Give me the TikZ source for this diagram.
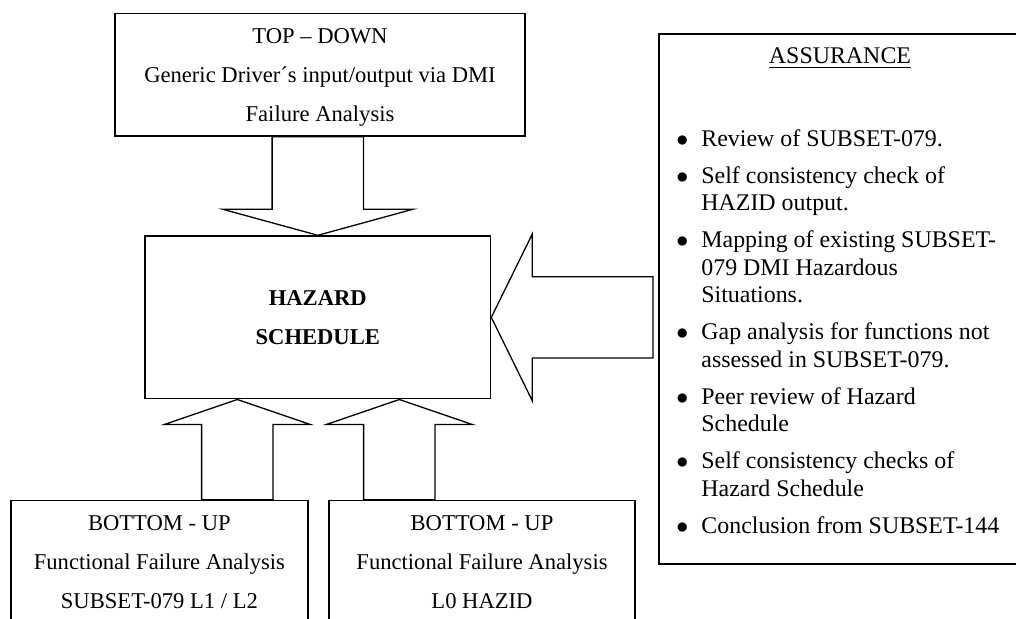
\documentclass[tikz,border=0pt]{standalone}
\usepackage{fontspec}
\setmainfont{Liberation Serif}
\usepackage{tikz}
\usetikzlibrary{calc}

\begin{document}
\begin{tikzpicture}[x=0.5pt, y=-0.5pt, line width=0.7pt,
    box/.style={rectangle, draw, inner sep=0pt, align=center, text depth=0pt,
        font=\fontsize{11.3}{19.5}\selectfont},
    bigarrow/.style={draw, line width=0.65pt, line join=miter}]
    \useasboundingbox (0,0) rectangle (1016,619);
    \clip (0,0) rectangle (1016,619);

    \node[box, minimum width=205pt, minimum height=61.2pt] (topdown) at (320,74.8) {
        TOP -- DOWN\\
        Generic Driver´s input/output via DMI\\
        Failure Analysis
    };

    \node[box, minimum width=172.8pt, minimum height=81.4pt] (hazard) at (317.8,317.4) {
        \textbf{HAZARD}\\
        \textbf{SCHEDULE}
    };

    \node[box, minimum width=148.4pt, minimum height=62pt] (ffaleft) at (159.4,562.5) {
        BOTTOM - UP\\
        Functional Failure Analysis\\
        SUBSET-079 L1 / L2
    };

    \node[box, minimum width=153pt, minimum height=62pt] (ffaright) at (482,562.5) {
        BOTTOM - UP\\
        Functional Failure Analysis\\
        L0 HAZID
    };

    \node[rectangle, draw, line width=1pt, anchor=north west, inner sep=0pt,
        minimum width=182pt, minimum height=264.5pt] (assurance) at (658,33.5) {};

    \node[anchor=base, font=\fontsize{11.95}{13.75}\selectfont] (assurtitle) at (840,64) {\underline{ASSURANCE}};

    \node[anchor=base west, inner sep=0pt, font=\fontsize{11.95}{13.75}\selectfont] (checks) at (675.7,146.5) {%
        \begin{tabular}[t]{@{}l@{}l@{}}
        \makebox[12.5pt][l]{$\bullet$} & Review of SUBSET-079.\\[4.75pt]
        \makebox[12.5pt][l]{$\bullet$} & Self consistency check of\\
            & HAZID output.\\[4.75pt]
        \makebox[12.5pt][l]{$\bullet$} & Mapping of existing SUBSET-\\
            & 079 DMI Hazardous\\
            & Situations.\\[4.75pt]
        \makebox[12.5pt][l]{$\bullet$} & Gap analysis for functions not\\
            & assessed in SUBSET-079.\\[4.75pt]
        \makebox[12.5pt][l]{$\bullet$} & Peer review of Hazard\\
            & Schedule\\[4.75pt]
        \makebox[12.5pt][l]{$\bullet$} & Self consistency checks of\\
            & Hazard Schedule\\[4.75pt]
        \makebox[12.5pt][l]{$\bullet$} & Conclusion from SUBSET-144
        \end{tabular}};

    % block arrows into the hazard schedule
    \coordinate (downtip) at (hazard.north);
    \draw[bigarrow] (downtip) -- ++(-95,-26) -- ++(49.3,0)
        -- ($(downtip |- topdown.south)+(-45.7,0)$) -- ($(downtip |- topdown.south)+(45.7,0)$)
        -- ($(downtip)+(45.7,-26)$) -- ++(49.3,0) -- cycle;

    \draw[bigarrow] (hazard.east) -- ++(41,-83.4) -- ++(0,42.7)
        -- ($(hazard.east -| assurance.west)+(-5,-40.7)$) -- ($(hazard.east -| assurance.west)+(-5,40.7)$)
        -- ($(hazard.east)+(41,40.7)$) -- ++(0,42.7) -- cycle;

    \coordinate (uptipl) at ($(hazard.south)+(-80.5,0)$);
    \draw[bigarrow] (uptipl) -- ++(-73,25) -- ++(37.3,0)
        -- ($(uptipl |- ffaleft.north)+(-35.7,0)$) -- ($(uptipl |- ffaleft.north)+(35.7,0)$)
        -- ($(uptipl)+(35.7,25)$) -- ++(37.3,0) -- cycle;

    \coordinate (uptipr) at ($(hazard.south)+(81.5,0)$);
    \draw[bigarrow] (uptipr) -- ++(-73,25) -- ++(37.3,0)
        -- ($(uptipr |- ffaright.north)+(-35.7,0)$) -- ($(uptipr |- ffaright.north)+(35.7,0)$)
        -- ($(uptipr)+(35.7,25)$) -- ++(37.3,0) -- cycle;
\end{tikzpicture}
\end{document}
